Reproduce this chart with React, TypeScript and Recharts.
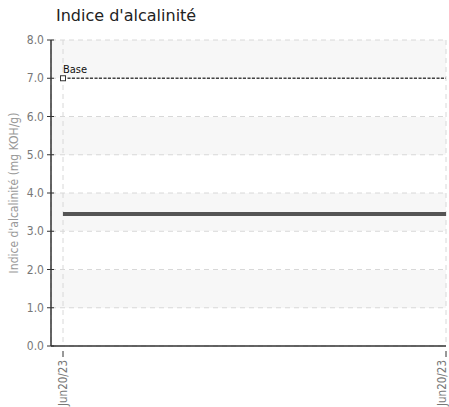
import React from 'react';
import {
    LineChart,
    Line,
    XAxis,
    YAxis,
    CartesianGrid,
} from 'recharts';

const dates = ['Jun20/23', 'Jun20/23'];
const alcalinite = [3.45, 3.45];
const base = [7.0, 7.0];
const yTicks = [0, 1, 2, 3, 4, 5, 6, 7, 8];

const data = dates.map((d, i) => ({ idx: i, date: d, value: alcalinite[i], base: base[i] }));

const FONT = '"Liberation Sans Narrow", "DejaVu Sans Condensed", "DejaVu Sans", sans-serif';
const narrow = { fontStretch: 'condensed' as const };

const YTick = (props: any) => {
    const { x, y, payload } = props;
    return (
        <g>
            <line x1={x + 4} x2={x + 11} y1={y} y2={y} stroke="#333" strokeWidth={1} />
            <text x={x + 1} y={y} dy={4} textAnchor="end" fontSize={12} fill="#777" fontFamily={FONT} style={narrow}>
                {payload.value.toFixed(1)}
            </text>
        </g>
    );
};

const XTick = (props: any) => {
    const { x, y, payload } = props;
    const tx = Math.min(x + 4, 446);
    return (
        <g>
            <line x1={x} x2={x} y1={y - 3} y2={y + 3} stroke="#333" strokeWidth={1} />
            <text
                transform={`translate(${tx},${y + 6}) rotate(-90)`}
                textAnchor="end"
                fontSize={11.5}
                fill="#777"
                fontFamily={FONT}
                style={narrow}
            >
                {dates[payload.value]}
            </text>
        </g>
    );
};

const BaseDot = (props: any) => {
    const { cx, cy, index } = props;
    if (index !== 0) return <g key={`b${index}`} />;
    return (
        <g key={`b${index}`}>
            <rect x={cx - 2.5} y={cy - 2.5} width={5} height={5} fill="#fff" stroke="#333" strokeWidth={1} />
            <text x={cx} y={cy - 5} fontSize={11} fill="#111" fontFamily={FONT} style={narrow}>Base</text>
        </g>
    );
};

export default function App() {
    return (
        <div style={{ position: 'absolute', left: 0, top: 0, width: 449, height: 407, background: '#fff' }}>
            <div
                style={{
                    position: 'absolute',
                    left: 56,
                    top: 6,
                    fontFamily: '"DejaVu Sans", sans-serif',
                    fontSize: 16,
                    color: '#222',
                }}
            >
                Indice d'alcalinité
            </div>
            <LineChart width={449} height={407} data={data} margin={{ top: 40, right: 3, left: 0, bottom: 0 }}>
                <CartesianGrid
                    stroke="#d8d8d8"
                    strokeDasharray="5 4"
                    horizontalFill={['#f7f7f7', '#ffffff']}
                />
                <XAxis
                    dataKey="idx"
                    type="number"
                    domain={[0, 1]}
                    ticks={[0, 1]}
                    height={61}
                    padding={{ left: 12, right: 0 }}
                    axisLine={{ stroke: '#333', strokeWidth: 1.5 }}
                    tickLine={false}
                    tick={<XTick />}
                    interval={0}
                />
                <YAxis
                    domain={[0, 8]}
                    ticks={yTicks}
                    width={51}
                    axisLine={{ stroke: '#333', strokeWidth: 1.5 }}
                    tickLine={false}
                    tick={<YTick />}
                    interval={0}
                    label={{
                        value: 'Indice d\'alcalinité (mg KOH/g)',
                        angle: -90,
                        position: 'insideLeft',
                        offset: 14,
                        style: { textAnchor: 'middle', fontSize: 12, fill: '#999', fontFamily: FONT, fontStretch: 'condensed' },
                    }}
                />
                <Line
                    dataKey="value"
                    stroke="#555"
                    strokeWidth={4}
                    dot={false}
                    activeDot={false}
                    isAnimationActive={false}
                />
                <Line
                    dataKey="base"
                    stroke="#444"
                    strokeWidth={1.5}
                    strokeDasharray="3 1.5"
                    dot={<BaseDot />}
                    activeDot={false}
                    isAnimationActive={false}
                />
            </LineChart>
        </div>
    );
}
